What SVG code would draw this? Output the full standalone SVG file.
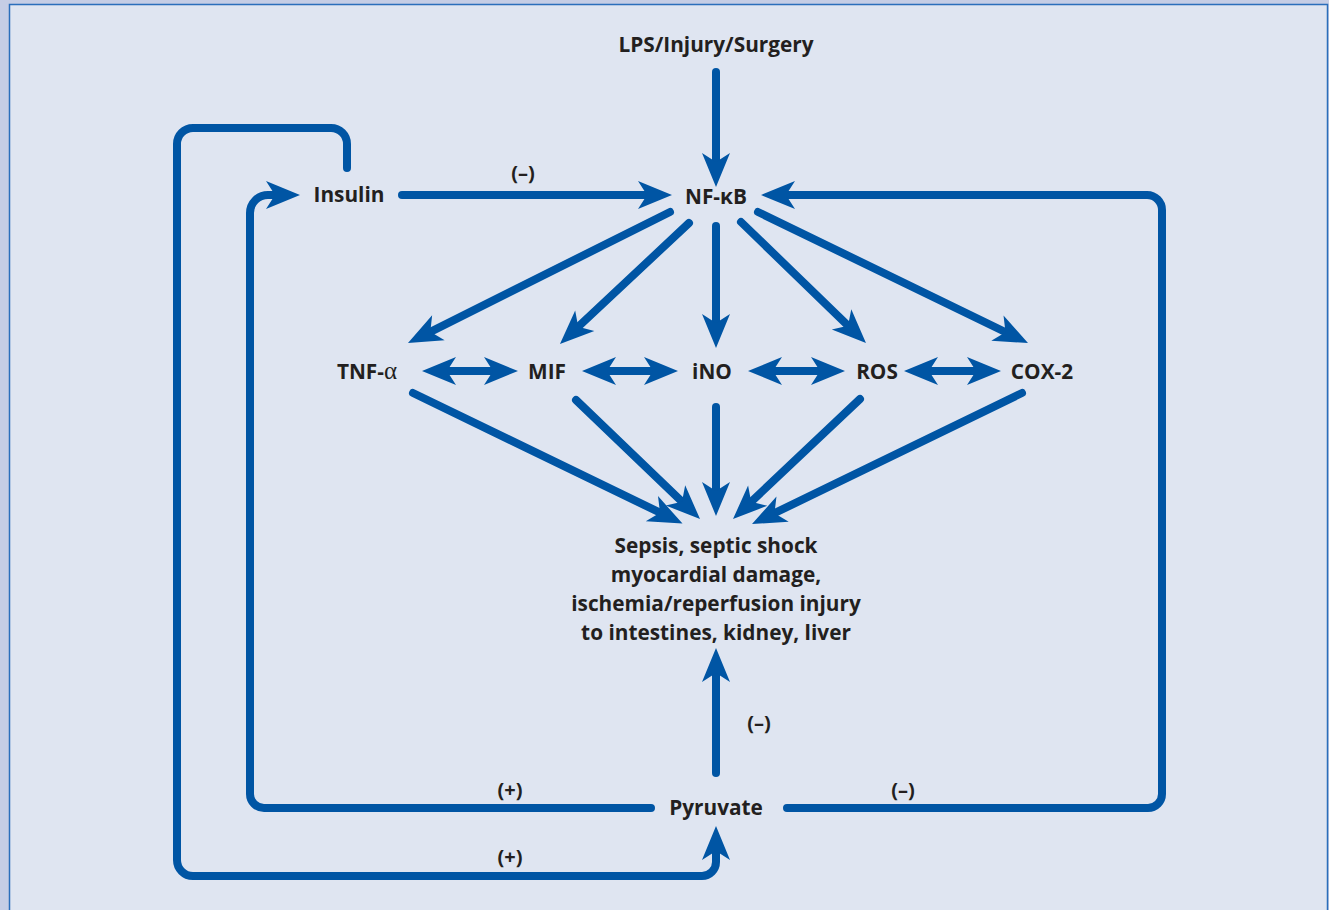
<svg xmlns="http://www.w3.org/2000/svg" width="1329" height="910" viewBox="0 0 1329 910">
<defs>
<marker id="ah" viewBox="-20 -15 36 30" refX="0" refY="0" markerWidth="36" markerHeight="30" markerUnits="userSpaceOnUse" orient="auto-start-reverse">
<path d="M15,0 L-19,-14 L-10,0 L-19,14 Z" fill="#0055a4"/>
</marker>
<style>
.ln{fill:none;stroke:#0055a4;stroke-width:8;stroke-linecap:round;stroke-linejoin:round}
.ar{marker-end:url(#ah)}
.da{marker-start:url(#ah);marker-end:url(#ah)}
text{font-family:"Open Sans","DejaVu Sans",sans-serif;font-weight:700;font-size:20.8px;fill:#231f20;text-anchor:middle}
.sm{font-size:20px}
</style>
</defs>
<rect x="0" y="0" width="1329" height="910" fill="#c5cde5"/>
<rect x="9.5" y="4.5" width="1318" height="920" fill="#dfe5f1" stroke="#2a6ebb" stroke-width="1.5"/>

<g id="connectors">
<path class="ln ar" d="M716,72 V172"/>
<path class="ln ar" d="M402,195 H657"/>
<path class="ln ar" d="M787,808 H1148 A14,14 0 0 0 1162,794 V210 A15,15 0 0 0 1147,195 H776"/>
<path class="ln ar" d="M651,808 H264 A14,14 0 0 1 250,794 V213 A18,18 0 0 1 268,195 H285"/>
<path class="ln ar" d="M347,168 V144 A16,16 0 0 0 331,128 H193 A16,16 0 0 0 177,144 V860 A16,16 0 0 0 193,876 H702 A14,14 0 0 0 716,862 V841"/>
<path class="ln ar" d="M716,773 V663"/>
<path class="ln ar" d="M670,212 L421.4,336.3"/>
<path class="ln ar" d="M689,223 L570.9,333.7"/>
<path class="ln ar" d="M716,226 V333"/>
<path class="ln ar" d="M741,222 L855.2,332.6"/>
<path class="ln ar" d="M758,212 L1014.5,336.5"/>
<path class="ln ar" d="M413,393 L669,517"/>
<path class="ln ar" d="M576,400 L689.2,508.6"/>
<path class="ln ar" d="M716,407 V501"/>
<path class="ln ar" d="M860,399 L743.9,508.7"/>
<path class="ln ar" d="M1022,393 L765.5,517.5"/>
<path class="ln da" d="M437,371 H503"/>
<path class="ln da" d="M597,371 H663"/>
<path class="ln da" d="M763,371 H830"/>
<path class="ln da" d="M919,371 H986"/>
</g>

<g id="lps"><text x="716" y="52">LPS/Injury/Surgery</text></g>
<g id="nfkb"><text x="716" y="204">NF-κB</text></g>
<g id="insulin"><text x="349" y="202">Insulin</text></g>
<g id="tnf"><text x="367" y="379">TNF-<tspan font-family="Liberation Serif,serif" font-weight="400" font-size="25">α</tspan></text></g>
<g id="mif"><text x="547" y="379">MIF</text></g>
<g id="ino"><text x="712" y="379">iNO</text></g>
<g id="ros"><text x="877" y="379">ROS</text></g>
<g id="cox2"><text x="1042" y="379">COX-2</text></g>
<g id="sepsis">
<text x="716" y="553">Sepsis, septic shock</text>
<text x="716" y="582">myocardial damage,</text>
<text x="716" y="611">ischemia/reperfusion injury</text>
<text x="716" y="640">to intestines, kidney, liver</text>
</g>
<g id="pyruvate"><text x="716" y="815">Pyruvate</text></g>
<g id="labels">
<text class="sm" x="523" y="180">(–)</text>
<text class="sm" x="759" y="730">(–)</text>
<text class="sm" x="510" y="797">(+)</text>
<text class="sm" x="903" y="797">(–)</text>
<text class="sm" x="510" y="864">(+)</text>
</g>
</svg>
